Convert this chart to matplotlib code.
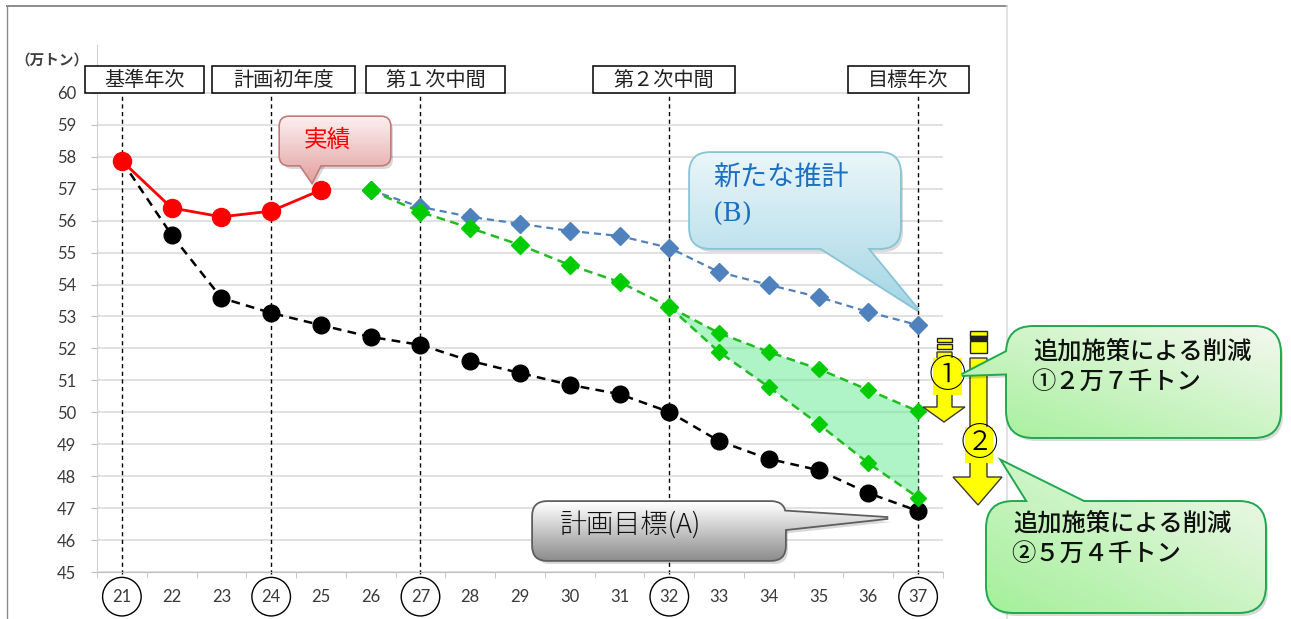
import matplotlib
matplotlib.use("Agg")
import matplotlib.pyplot as plt
import numpy as np
from matplotlib.patches import FancyBboxPatch, Polygon, Rectangle
from matplotlib.colors import to_rgb

# 万トン per year (平成)
years = list(range(21, 38))
actual_years = [21, 22, 23, 24, 25]
actual = [57.87, 56.40, 56.12, 56.30, 56.96]
target = [57.87, 55.55, 53.58, 53.11, 52.73, 52.36, 52.11, 51.61, 51.23,
          50.86, 50.57, 50.01, 49.10, 48.54, 48.19, 47.47, 46.91]
estimate_years = list(range(26, 38))
estimate = [56.95, 56.43, 56.12, 55.90, 55.68, 55.52, 55.15, 54.39, 53.99,
            53.61, 53.14, 52.73]
measure_years = [26, 27, 28, 29, 30, 31, 32]
measure = [56.95, 56.27, 55.77, 55.24, 54.61, 54.08, 53.30]
branch_years = [32, 33, 34, 35, 36, 37]
measure_1 = [53.30, 52.48, 51.89, 51.36, 50.70, 50.03]
measure_2 = [53.30, 51.89, 50.79, 49.63, 48.41, 47.33]
milestone_years = [21, 24, 27, 32, 37]
milestone_labels = ["基準年次", "計画初年度", "第１次中間", "第２次中間", "目標年次"]
y_ticks = list(range(45, 61))

JP = ["Noto Sans CJK JP", "DejaVu Sans"]
plt.rcParams["font.family"] = ["Lato", "DejaVu Sans"]

W, H = 1291, 619
fig = plt.figure(figsize=(W / 100, H / 100), dpi=100)
ax = fig.add_axes([97 / W, 1 - 572 / H, 846 / W, 527 / H])
ax.set_xlim(20.5, 37.5)
ax.set_ylim(45, 61.5)

# axes styling
for s in ("top", "right"):
    ax.spines[s].set_visible(False)
ax.spines["left"].set_color("#D0D0D0")
ax.spines["bottom"].set_color("#BFBFBF")
ax.set_yticks(y_ticks)
ax.set_xticks(years, labels=[str(y) for y in years])
ax.set_xticks(np.arange(20.5, 38, 1), minor=True)
ax.tick_params(axis="y", length=4.5, color="#BFBFBF", labelsize=12,
               labelcolor="#3A3A3A", pad=10.5)
ax.tick_params(axis="x", which="major", length=0, labelsize=12,
               labelcolor="#3A3A3A", pad=12)
ax.tick_params(axis="x", which="minor", length=4.5, color="#BFBFBF")
ax.grid(axis="y", color="#D9D9D9", lw=1.1)
ax.set_axisbelow(True)

# circled milestone years on the x axis
for lbl in ax.get_xticklabels():
    if int(lbl.get_text()) in milestone_years:
        lbl.set_bbox(dict(boxstyle="circle,pad=0.58", fc="none", ec="black", lw=1))

# milestone guide lines
ax.vlines(milestone_years, 44.93, 60, colors="black", lw=1,
          linestyles=(0, (3, 2.5)), clip_on=False, zorder=1)

# shaded reduction band
ax.fill_between(branch_years, measure_1, measure_2, color="#5EEB8F",
                alpha=0.5, lw=0, zorder=2)

ax.plot(years, target, color="black", lw=1.8, ls=(0, (3.5, 2.5)),
        marker="o", ms=12, zorder=3)
ax.plot(estimate_years, estimate, color="#4F81BD", lw=1.6, ls=(0, (3.2, 2.2)),
        marker="D", ms=9, zorder=4)
ax.plot(branch_years, measure_1, color="#22BB22", lw=1.8, ls=(0, (3.5, 2.2)),
        marker="D", ms=8.5, mfc="#00CC00", mec="#00CC00", zorder=5)
ax.plot(branch_years, measure_2, color="#22BB22", lw=1.8, ls=(0, (3.5, 2.2)),
        marker="D", ms=8.5, mfc="#00CC00", mec="#00CC00", zorder=5)
ax.plot(measure_years, measure, color="#22BB22", lw=1.8, ls=(0, (3.5, 2.2)),
        marker="D", ms=9.5, mfc="#00CC00", mec="#00CC00", zorder=6)
ax.plot(actual_years, actual, color="#FF0000", lw=2, marker="o", ms=13,
        zorder=7)


def to_px(x, y):
    px, py = ax.transData.transform((x, y))
    return px, H - py


# overlay in pixel coordinates for labels and callouts
ov = fig.add_axes([0, 0, 1, 1], zorder=5)
ov.set_xlim(0, W)
ov.set_ylim(H, 0)
ov.axis("off")

# chart frame
ov.plot([7, 1007], [6, 6], color="#8C8C8C", lw=1.4)
ov.plot([7, 7], [6, H], color="#8C8C8C", lw=1)
ov.plot([1007, 1007], [6, H], color="#DDDDDD", lw=1.2)

ov.text(52, 60, "（万トン）", family=JP, fontsize=10.5, fontweight="bold",
        color="#404040", ha="center", va="center")

# milestone header boxes
header_boxes = [(85, 204), (212, 355), (366, 505), (593, 735), (848, 969)]
for (bx0, bx1), label in zip(header_boxes, milestone_labels):
    ov.add_patch(Rectangle((bx0, 66), bx1 - bx0, 27, fc="white", ec="black",
                           lw=1.1, zorder=3))
    ov.text((bx0 + bx1) / 2, 80, label, family=JP, fontsize=14.5,
            color="#222222", ha="center", va="center", zorder=4)


def gradient(c0, c1, diagonal=False, n=64):
    c0, c1 = np.array(to_rgb(c0)), np.array(to_rgb(c1))
    i, j = np.mgrid[0:n, 0:n]
    if diagonal:
        t = (i + (n - 1 - j)) / (2 * (n - 1))
    else:
        t = i / (n - 1)
    return c0 * (1 - t[..., None]) + c1 * t[..., None]


def callout(x0, y0, x1, y1, pointer, c0, c1, ec, rnd, z, lw=1.5,
            diagonal=False):
    style = f"round,pad=0,rounding_size={rnd}"
    ov.add_patch(FancyBboxPatch((x0 + 3, y0 + 4), x1 - x0, y1 - y0,
                                boxstyle=style, fc="black", ec="none",
                                alpha=0.15, zorder=z))
    ov.add_patch(Polygon([(px + 3, py + 4) for px, py in pointer], fc="black",
                         ec="none", alpha=0.15, zorder=z))
    box = FancyBboxPatch((x0, y0), x1 - x0, y1 - y0, boxstyle=style,
                         fc="none", ec=ec, lw=2 * lw, zorder=z + 1)
    ptr = Polygon(pointer, closed=True, fc="none", ec=ec, lw=2 * lw,
                  joinstyle="miter", zorder=z + 1)
    ov.add_patch(box)
    ov.add_patch(ptr)
    xs = [x0, x1] + [p[0] for p in pointer]
    ys = [y0, y1] + [p[1] for p in pointer]
    img = gradient(c0, c1, diagonal)
    for shape in (box, ptr):
        im = ov.imshow(img, extent=(min(xs), max(xs), max(ys), min(ys)),
                       origin="upper", aspect="auto", interpolation="bilinear",
                       zorder=z + 2)
        im.set_clip_path(shape)


# 実績
tx, ty = to_px(actual_years[-1], actual[-1])
callout(280, 117, 390, 165, [(297, 160), (323, 160), (tx - 9, ty - 8)],
        "#FCF0F0", "#E3A2A2", "#C47A7A", 9, 10, lw=1.2)
ov.text(327, 140, "実績", family=JP, fontsize=17, color="#FF0000",
        ha="center", va="center", zorder=14)

# 新たな推計(B)
tx, ty = to_px(estimate_years[-1], estimate[-1])
callout(690, 153, 900, 248, [(813, 243), (863, 243), (tx, ty - 15)],
        "#EAF6F9", "#A4D6E5", "#86C4D6", 20, 10, lw=1.3)
ov.text(713, 178, "新たな推計", family=JP, fontsize=19.5, color="#1F6FC0",
        ha="left", va="center", zorder=14)
ov.text(713, 214, "(B)", family=["DejaVu Serif"], fontsize=19,
        color="#1F6FC0", ha="left", va="center", zorder=14)

# 計画目標(A)
tx, ty = to_px(years[-1], target[-1])
callout(533, 502, 785, 560, [(778, 511), (778, 530), (tx - 30, ty + 7)],
        "#FFFFFF", "#8E8E8E", "#5E5E5E", 14, 10, lw=1.3)
ov.text(560, 525, "計画目標(A)", family=JP, fontsize=19.5, fontweight="light",
        color="#111111", ha="left", va="center", zorder=14)

# yellow reduction arrows
yellow = "#FFFF00"
ov.add_patch(Polygon([(937, 352), (952, 352), (952, 407), (965, 407),
                      (944, 422), (923, 407), (937, 407)], fc=yellow,
                     ec="#3A3A3A", lw=1, zorder=6))
ov.add_patch(Rectangle((937, 338), 15, 4, fc=yellow, ec="#222222", lw=1,
                       zorder=6))
ov.add_patch(Rectangle((937, 344), 15, 5, fc=yellow, ec="#222222", lw=1,
                       zorder=6))
ov.add_patch(Polygon([(970, 358), (987, 358), (987, 477), (1002, 477),
                      (978, 505), (953, 477), (970, 477)], fc=yellow,
                     ec="#3A3A3A", lw=1, zorder=6))
ov.add_patch(Rectangle((970, 331), 17, 5, fc=yellow, ec="#222222", lw=1,
                       zorder=6))
ov.add_patch(Rectangle((970, 336), 17, 4, fc="#222222", ec="#222222", lw=1,
                       zorder=6))
ov.add_patch(Rectangle((970, 341), 17, 12, fc=yellow, ec="#222222", lw=1,
                       zorder=6))
ov.add_patch(Rectangle((933, 358), 29, 37, fc=yellow, ec="none", zorder=7))
ov.text(947.5, 376, "①", family=JP, fontsize=27, fontweight="light",
        ha="center", va="center", zorder=8)
ov.add_patch(Rectangle((965, 427), 28, 36, fc=yellow, ec="none", zorder=7))
ov.text(979, 444, "②", family=JP, fontsize=27, fontweight="light",
        ha="center", va="center", zorder=8)

# green reduction callouts
callout(1007, 327, 1280, 437, [(1020, 345), (962, 375), (1020, 373)],
        "#F3F8EE", "#A4F09A", "#1FA84E", 26, 10, lw=1.4, diagonal=True)
ov.text(1033, 352, "追加施策による削減", family=JP, fontsize=17.5,
        fontweight="medium", color="#111111", ha="left", va="center",
        zorder=14)
ov.text(1031, 383, "①２万７千トン", family=JP, fontsize=17.5,
        fontweight="medium", color="#111111", ha="left", va="center",
        zorder=14)

callout(987, 502, 1265, 612, [(1033, 510), (1003, 462), (1100, 510)],
        "#F3F8EE", "#A4F09A", "#1FA84E", 26, 10, lw=1.4, diagonal=True)
ov.text(1013, 524, "追加施策による削減", family=JP, fontsize=17.5,
        fontweight="medium", color="#111111", ha="left", va="center",
        zorder=14)
ov.text(1011, 555, "②５万４千トン", family=JP, fontsize=17.5,
        fontweight="medium", color="#111111", ha="left", va="center",
        zorder=14)

ov.set_xlim(0, W)
ov.set_ylim(H, 0)

fig.savefig("out.png", dpi=100)
